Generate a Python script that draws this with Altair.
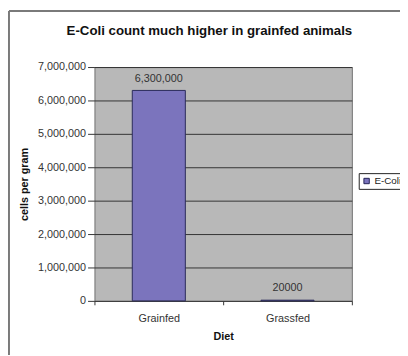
import altair as alt
import pandas as pd

categories = ["Grainfed", "Grassfed"]
values = [6300000, 20000]
value_labels = ["6,300,000", "20000"]
series = ["E-Coli", "E-Coli"]
y_ticks = [0, 1000000, 2000000, 3000000, 4000000, 5000000, 6000000, 7000000]

df = pd.DataFrame({"Diet": categories, "count": values, "label": value_labels, "series": series})
frame_df = pd.DataFrame({"k": [0]})

FONT = "Liberation Sans"
BAR = "#7b74bd"

x_enc = alt.X("Diet:N", sort=categories,
              scale=alt.Scale(paddingInner=0, paddingOuter=0),
              axis=alt.Axis(title="Diet", labelAngle=0, tickBand="extent", tickSize=4,
                            labelPadding=8, titlePadding=7, domain=False,
                            labelFont=FONT, labelFontSize=11, titleFont=FONT, titleFontSize=11,
                            titleFontWeight="bold", titleColor="#111111",
                            tickColor="#333333", labelColor="#333333"))
y_enc = alt.Y("count:Q", scale=alt.Scale(domain=[0, 7000000], nice=False),
              axis=alt.Axis(title="cells per gram", values=y_ticks,
                            labelExpr="format(datum.value, ',')",
                            tickSize=7, labelPadding=2, titlePadding=8, domain=False,
                            labelFont=FONT, labelFontSize=11, titleFont=FONT, titleFontSize=11,
                            titleFontWeight="bold", titleColor="#111111",
                            grid=True, gridColor="#333333", gridWidth=1,
                            tickColor="#333333", labelColor="#333333"))

bars = alt.Chart(df).mark_bar(size=54, stroke="#2a2a5a", strokeWidth=1).encode(
    x=x_enc, y=y_enc,
    color=alt.Color("series:N", scale=alt.Scale(range=[BAR]),
                    legend=alt.Legend(title=None, orient="none", legendX=269, legendY=108,
                                      strokeColor="#222222", padding=3, symbolType="square",
                                      symbolSize=30, symbolStrokeColor="#222255", symbolStrokeWidth=1,
                                      labelFont=FONT, labelFontSize=10, labelColor="#222222",
                                      labelOffset=3))
)

text = alt.Chart(df).mark_text(dy=-12, font=FONT, fontSize=11, color="#333333").encode(
    x=x_enc, y=y_enc, text="label:N"
)

left_line = alt.Chart(frame_df).mark_rule(color="#7a7a7a", strokeWidth=2).encode(
    x=alt.value(-87), y=alt.value(-57), y2=alt.value(320)
)
top_line = alt.Chart(frame_df).mark_rule(color="#7a7a7a", strokeWidth=2).encode(
    x=alt.value(-87), x2=alt.value(330), y=alt.value(-57)
)

chart = alt.layer(bars, text, left_line, top_line).properties(
    width=262, height=238,
    autosize=alt.AutoSizeParams(type="none"),
    padding={"left": 88, "top": 57, "right": 49, "bottom": 52},
    view=alt.ViewBackground(fill="#b8b8b8", stroke="#707070", strokeWidth=1),
    title=alt.Title("E-Coli count much higher in grainfed animals", font=FONT, fontSize=13.5,
                    fontWeight="bold", color="#111111", anchor="middle", dx=-14, offset=-28),
).configure(background="white")

chart.save("out.html", embed_options={"renderer": "svg", "actions": False})
